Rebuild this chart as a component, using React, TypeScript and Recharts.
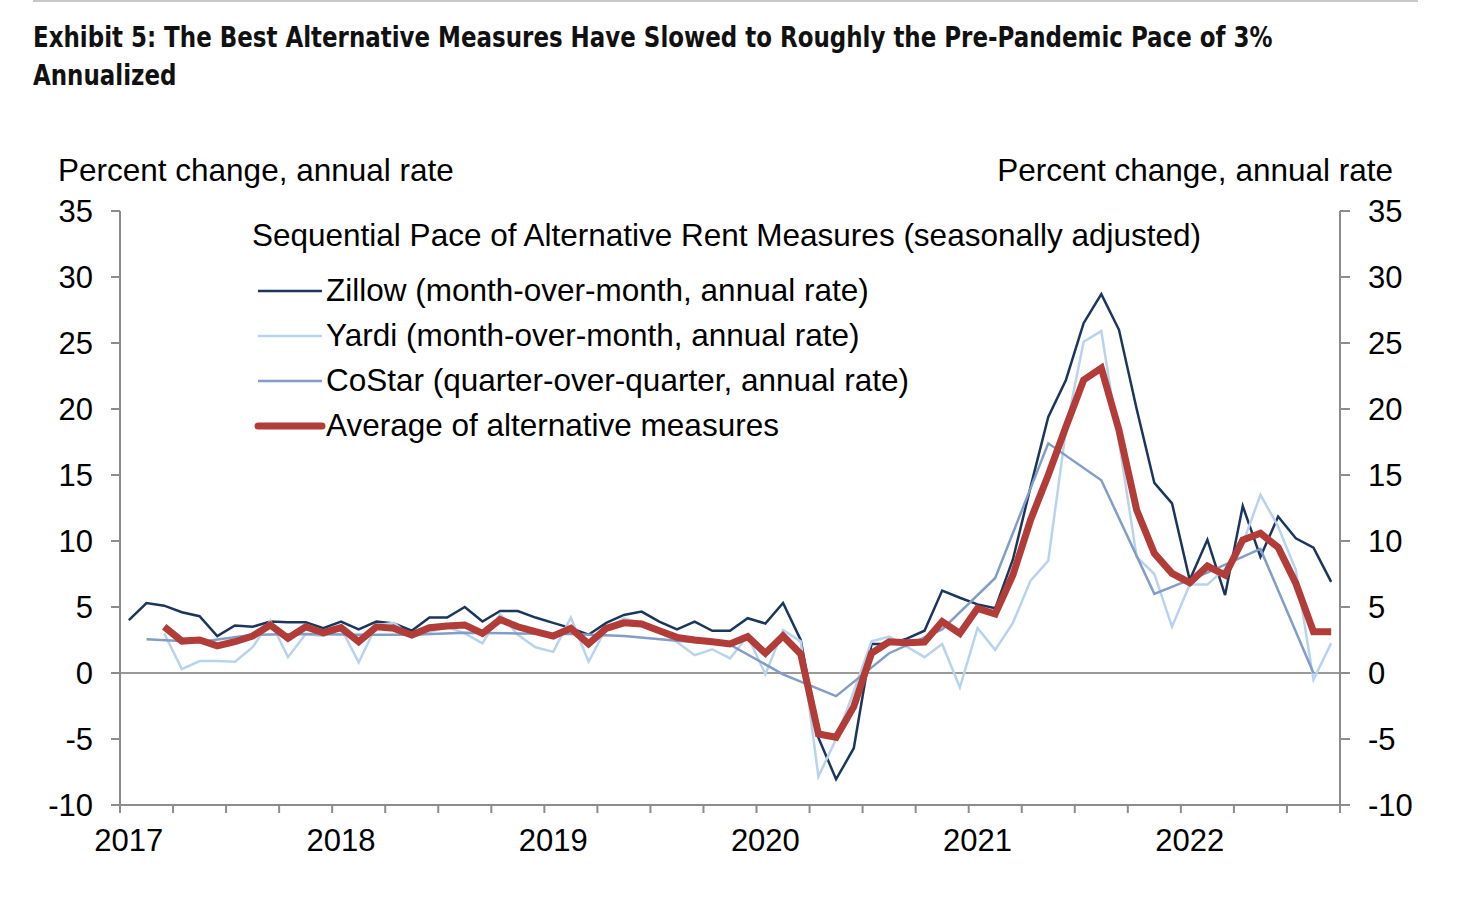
import React from 'react';
import { LineChart, Line, XAxis, YAxis, ReferenceLine } from 'recharts';

// Monthly, Jan 2017 .. Sep 2022 (69 months)
const zillow = [
  4.0, 5.3, 5.1, 4.6, 4.3, 2.8, 3.6, 3.5, 3.9, 3.85, 3.85, 3.4,
  3.9, 3.3, 3.9, 3.75, 3.2, 4.2, 4.2, 5.0, 3.9, 4.7, 4.7, 4.2,
  3.8, 3.4, 2.9, 3.8, 4.4, 4.65, 3.9, 3.3, 3.9, 3.2, 3.2, 4.15,
  3.75, 5.3, 2.5, -4.9, -8.05, -5.7, 2.2, 2.2, 2.6, 3.2, 6.25, 5.7,
  5.2, 4.9, 8.6, 14.1, 19.4, 22.2, 26.5, 28.7, 26.0, 20.0, 14.4, 12.85,
  7.05, 10.1, 5.9, 12.65, 8.8, 11.85, 10.2, 9.5, 6.9,
];

const yardi = [
  null, null, 3.0, 0.3, 0.9, 0.9, 0.85, 1.95, 3.95, 1.2, 2.95, 2.8,
  3.4, 0.8, 3.6, 3.8, 2.7, 3.1, 3.5, 3.0, 2.25, 4.45, 2.9, 1.95,
  1.6, 4.2, 0.85, 3.4, 4.15, 3.8, 3.1, 2.35, 1.35, 1.8, 1.1, 2.8,
  -0.1, 3.25, 2.4, -7.85, -5.0, -1.4, 2.4, 2.75, 2.0, 1.2, 2.2, -1.1,
  3.4, 1.75, 3.8, 7.0, 8.5, 18.4, 25.1, 25.9, 17.5, 8.8, 7.5, 3.5,
  6.7, 6.7, 7.9, 9.8, 13.5, 11.1, 7.8, -0.5, 2.25,
];

// quarterly readings, placed at their month
const costar = [
  null, 2.55, null, null, 2.35, null, null, 2.9, null, null, 2.95, null,
  null, 2.9, null, null, 2.9, null, null, 3.05, null, null, 3.0, null,
  null, 2.95, null, null, 2.8, null, null, 2.45, null, null, 2.15, null,
  null, -0.1, null, null, -1.75, null, null, 1.5, null, null, 3.3, null,
  null, 7.2, null, null, 17.4, null, null, 14.6, null, null, 6.0, null,
  null, 7.6, null, null, 9.4, null, null, 0.0, null,
];

const average = [
  null, null, 3.5, 2.42, 2.5, 2.05, 2.37, 2.8, 3.64, 2.63, 3.5, 3.05,
  3.43, 2.37, 3.5, 3.38, 2.88, 3.43, 3.56, 3.64, 3.0, 4.06, 3.5, 3.13,
  2.8, 3.38, 2.2, 3.38, 3.8, 3.71, 3.2, 2.7, 2.5, 2.37, 2.2, 2.75,
  1.5, 2.8, 1.44, -4.62, -4.87, -2.55, 1.49, 2.37, 2.3, 2.35, 3.9, 3.0,
  4.9, 4.47, 7.42, 11.6, 15.0, 18.66, 22.2, 23.1, 18.4, 12.35, 9.07, 7.55,
  6.84, 8.1, 7.42, 10.08, 10.58, 9.52, 6.8, 3.13, 3.13,
];

const yearLabels = ['2017', '2018', '2019', '2020', '2021', '2022'];
const yTicks = [-10, -5, 0, 5, 10, 15, 20, 25, 30, 35];

const data = zillow.map((z, i) => ({
  m: i,
  zillow: z,
  yardi: yardi[i],
  costar: costar[i],
  average: average[i],
}));

// tick marks on quarter boundaries
const xTicks = Array.from({ length: 24 }, (_, k) => -0.5 + 3 * k);

const FONT = '"Liberation Sans", Arial, sans-serif';
const TEXT_SIZE = 31.5;
const AXIS = '#8c8c8c';
const PLOT_LEFT = 120;
const PLOT_RIGHT = 1340;
const HALF_MONTH = (PLOT_RIGHT - PLOT_LEFT) / data.length / 2;

const YearTick = (props: any) => {
  const { x, y, payload } = props;
  const k = (payload.value + 0.5) / 12;
  if (!Number.isInteger(k) || !yearLabels[k]) return <g />;
  return (
    <text x={x + HALF_MONTH} y={y} dy="0.71em" textAnchor="middle" fill="#000" fontSize={31} fontFamily={FONT}>
      {yearLabels[k]}
    </text>
  );
};

const legendItems = [
  { label: 'Zillow (month-over-month, annual rate)', color: '#1b365d', width: 2.5 },
  { label: 'Yardi (month-over-month, annual rate)', color: '#b8d3ee', width: 2.5 },
  { label: 'CoStar (quarter-over-quarter, annual rate)', color: '#819dc8', width: 2.5 },
  { label: 'Average of alternative measures', color: '#b13c38', width: 7 },
];

export default function App() {
  return (
    <div style={{ position: 'absolute', left: 0, top: 0, width: 1470, height: 900, background: '#fff' }}>
      <div style={{ position: 'absolute', left: 33, top: 0, width: 1385, height: 2, background: '#c8c8c8' }} />
      <div
        style={{
          position: 'absolute',
          left: 33,
          top: 18,
          fontFamily: '"Liberation Sans Narrow", "DejaVu Sans Condensed", sans-serif',
          fontWeight: 'bold',
          fontSize: 29,
          lineHeight: '38px',
          color: '#111',
          whiteSpace: 'nowrap',
          transform: 'scaleX(0.88)',
          transformOrigin: 'left top',
        }}
      >
        Exhibit 5: The Best Alternative Measures Have Slowed to Roughly the Pre-Pandemic Pace of 3%
        <br />
        Annualized
      </div>

      <div style={{ position: 'absolute', left: 0, top: 0 }}>
        <LineChart width={1470} height={900} data={data} margin={{ top: 211, right: 70, bottom: 55, left: 60 }}>
          <XAxis
            dataKey="m"
            type="number"
            domain={[-0.5, 68.5]}
            ticks={xTicks}
            interval={0}
            height={40}
            tick={<YearTick />}
            tickSize={8}
            tickMargin={16}
            stroke={AXIS}
            strokeWidth={2}
          />
          <YAxis
            yAxisId="left"
            domain={[-10, 35]}
            ticks={yTicks}
            interval={0}
            width={60}
            tickSize={9}
            tickMargin={18}
            stroke={AXIS}
            strokeWidth={2}
            tick={{ fill: '#000', fontSize: 31, fontFamily: FONT }}
            allowDataOverflow
          />
          <YAxis
            yAxisId="right"
            orientation="right"
            domain={[-10, 35]}
            ticks={yTicks}
            interval={0}
            width={60}
            tickSize={10}
            tickMargin={18}
            stroke={AXIS}
            strokeWidth={2}
            tick={{ fill: '#000', fontSize: 31, fontFamily: FONT, textAnchor: 'start' }}
            allowDataOverflow
          />
          <ReferenceLine yAxisId="left" y={0} stroke="#999" strokeWidth={2} />
          <Line yAxisId="left" dataKey="zillow" stroke="#1b365d" strokeWidth={2.5} dot={false} isAnimationActive={false} />
          <Line yAxisId="left" dataKey="yardi" stroke="#b8d3ee" strokeWidth={2.5} dot={false} isAnimationActive={false} />
          <Line
            yAxisId="left"
            dataKey="costar"
            stroke="#819dc8"
            strokeWidth={2.5}
            dot={false}
            connectNulls
            isAnimationActive={false}
          />
          <Line
            yAxisId="left"
            dataKey="average"
            stroke="#b13c38"
            strokeWidth={7}
            dot={false}
            isAnimationActive={false}
          />
        </LineChart>
      </div>

      <svg
        width={1470}
        height={900}
        style={{ position: 'absolute', left: 0, top: 0, pointerEvents: 'none' }}
        fontFamily={FONT}
        fontSize={TEXT_SIZE}
      >
        <text x={58} y={181} fill="#000">Percent change, annual rate</text>
        <text x={1393} y={181} fill="#000" textAnchor="end">Percent change, annual rate</text>
        <text x={252} y={246} fill="#000">Sequential Pace of Alternative Rent Measures (seasonally adjusted)</text>
        {legendItems.map((it, i) => (
          <g key={it.label}>
            <line
              x1={258}
              x2={322}
              y1={291 + i * 45}
              y2={291 + i * 45}
              stroke={it.color}
              strokeWidth={it.width}
              strokeLinecap={it.width > 5 ? 'round' : 'butt'}
            />
            <text x={326} y={301 + i * 45} fill="#000">{it.label}</text>
          </g>
        ))}
      </svg>
    </div>
  );
}
